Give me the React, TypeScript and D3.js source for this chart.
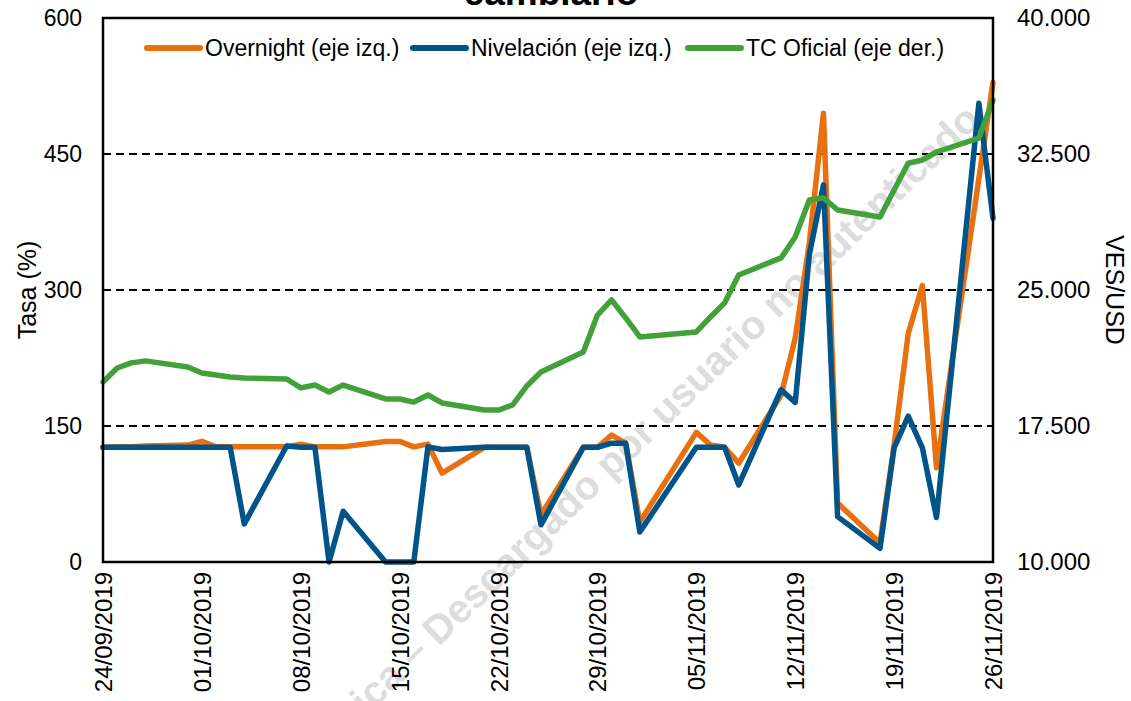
import React from 'react';
import * as d3 from 'd3';

// fechas hábiles (dd/mm/2019)
const dates = [
  '24/09', '25/09', '26/09', '27/09', '30/09',
  '01/10', '02/10', '03/10', '04/10', '07/10', '08/10', '09/10', '10/10', '11/10',
  '14/10', '15/10', '16/10', '17/10', '18/10', '21/10', '22/10', '23/10', '24/10', '25/10',
  '28/10', '29/10', '30/10', '31/10', '01/11', '04/11', '05/11', '06/11', '07/11', '08/11',
  '11/11', '12/11', '13/11', '14/11', '15/11', '18/11', '19/11', '20/11', '21/11', '22/11',
  '25/11', '26/11',
];

const overnight = [
  126.5, 127, 127, 128, 129,
  133, 127, 127, 127, 127, 130, 127, 127, 127,
  133, 133, 127, 130, 98, 126.5, 126.5, 126.5, 126.5, 52,
  126.5, 126.5, 140, 131, 44, null, 143, 129, 126.5, 109,
  184, 247, 352, 495, 65, 21, 129, 252, 305, 104,
  423, 529,
];

const nivelacion = [
  126.5, 126.5, 126.5, 126.5, 126.5,
  126.5, 126.5, 126.5, 42, 128, 126.5, 126.5, 0, 56,
  0, 0, 0, 127, 124, 126.5, 126.5, 126.5, 126.5, 41,
  126.5, 126.5, 131, 131, 33, null, 126.5, 126.5, 126.5, 85,
  190, 176, 339, 416, 50, 15, 126, 161, 126, 49,
  506, 379,
];

const tcOficial = [
  19930, 20700, 20980, 21090, 20750,
  20420, 20310, 20200, 20150, 20090, 19600, 19760, 19380, 19760,
  18990, 18990, 18820, 19210, 18770, 18380, 18380, 18660, 19710, 20480,
  21580, 23620, 24450, 23460, 22410, null, 22690, 23510, 24280, 25830,
  26770, 27920, 29960, 30080, 29410, 29030, 30520, 32000, 32170, 32610,
  33380, 35480,
];

const xTickLabels = [
  '24/09/2019', '01/10/2019', '08/10/2019', '15/10/2019', '22/10/2019',
  '29/10/2019', '05/11/2019', '12/11/2019', '19/11/2019', '26/11/2019',
];
const leftTicks = [0, 150, 300, 450, 600];
const rightTicks = [10000, 17500, 25000, 32500, 40000];

const series = [
  { name: 'Overnight (eje izq.)', values: overnight, color: '#e8700e', axis: 'left' },
  { name: 'Nivelación (eje izq.)', values: nivelacion, color: '#00548a', axis: 'left' },
  { name: 'TC Oficial (eje der.)', values: tcOficial, color: '#43a13a', axis: 'right' },
];

const W = 1131;
const H = 701;
const FONT = 'Liberation Sans, Arial, sans-serif';

const parse = (s: string) => {
  const [d, m, y] = s.split('/').map(Number);
  return new Date(y || 2019, m - 1, d);
};

const es = d3.formatLocale({ decimal: ',', thousands: '.', grouping: [3], currency: ['', ''] });
const fmtRight = es.format(',');

export default function App() {
  const left = 103, right = 993, top = 18, bottom = 562;

  const x = d3.scaleTime()
    .domain([parse('24/09/2019'), parse('26/11/2019')])
    .range([left, right]);
  const yL = d3.scaleLinear().domain([0, 600]).range([bottom, top]);
  const yR = d3.scaleLinear().domain([10000, 40000]).range([bottom, top]);

  const makePath = (vals: (number | null)[], scale: d3.ScaleLinear<number, number>) => {
    const pts = dates
      .map((d, i) => ({ date: parse(d), v: vals[i] }))
      .filter((p) => p.v !== null) as { date: Date; v: number }[];
    return d3.line<{ date: Date; v: number }>()
      .x((p) => x(p.date))
      .y((p) => scale(p.v))(pts) || '';
  };

  const legendX = [147, 413, 688];

  return (
    <svg width={W} height={H} style={{ position: 'absolute', left: 0, top: 0, background: '#fff' }}
      fontFamily={FONT}>
      {/* titulo cortado */}
      <text x={551} y={5} textAnchor="middle" fontSize={37} fontWeight="bold">cambiario</text>

      {/* marca de agua */}
      <text transform="translate(982,122) rotate(-44)" textAnchor="end" fontSize={40}
        fontWeight="bold" fill="#d4d4d4" fillOpacity={0.8}>
        Política – Descargado por usuario no autenticado
      </text>

      {/* rejilla */}
      {leftTicks.slice(1, -1).map((t) => (
        <line key={t} x1={left} x2={right} y1={yL(t)} y2={yL(t)} stroke="#000"
          strokeWidth={2} strokeDasharray="8,5" />
      ))}

      {/* series */}
      {series.map((s) => (
        <path key={s.name} d={makePath(s.values, s.axis === 'left' ? yL : yR)} fill="none"
          stroke={s.color} strokeWidth={5.5} strokeLinejoin="round" strokeLinecap="round" />
      ))}

      {/* marco */}
      <rect x={left} y={top} width={right - left} height={bottom - top} fill="none" stroke="#000" strokeWidth={2.5} />

      {/* eje izq */}
      {leftTicks.map((t) => (
        <text key={t} x={82} y={yL(t)} dy="0.35em" textAnchor="end" fontSize={23}>{t}</text>
      ))}
      <text transform={`translate(36,${(top + bottom) / 2}) rotate(-90)`} textAnchor="middle" fontSize={25}>Tasa (%)</text>

      {/* eje der */}
      {rightTicks.map((t) => (
        <text key={t} x={1017} y={yR(t)} dy="0.35em" textAnchor="start" fontSize={24}>{fmtRight(t)}</text>
      ))}
      <text transform={`translate(1106,${(top + bottom) / 2}) rotate(90)`} textAnchor="middle" fontSize={25}>VES/USD</text>

      {/* eje x */}
      {xTickLabels.map((l) => (
        <text key={l} transform={`translate(${x(parse(l)) + 9},${572}) rotate(-90)`} textAnchor="end"
          fontSize={24}>{l}</text>
      ))}

      {/* leyenda */}
      {series.map((s, i) => (
        <g key={s.name} transform={`translate(${legendX[i]},48)`}>
          <line x1={0} x2={53} y1={0} y2={0} stroke={s.color} strokeWidth={6} strokeLinecap="round" />
          <text x={58} y={0} dy="0.35em" fontSize={23}>{s.name}</text>
        </g>
      ))}
    </svg>
  );
}
